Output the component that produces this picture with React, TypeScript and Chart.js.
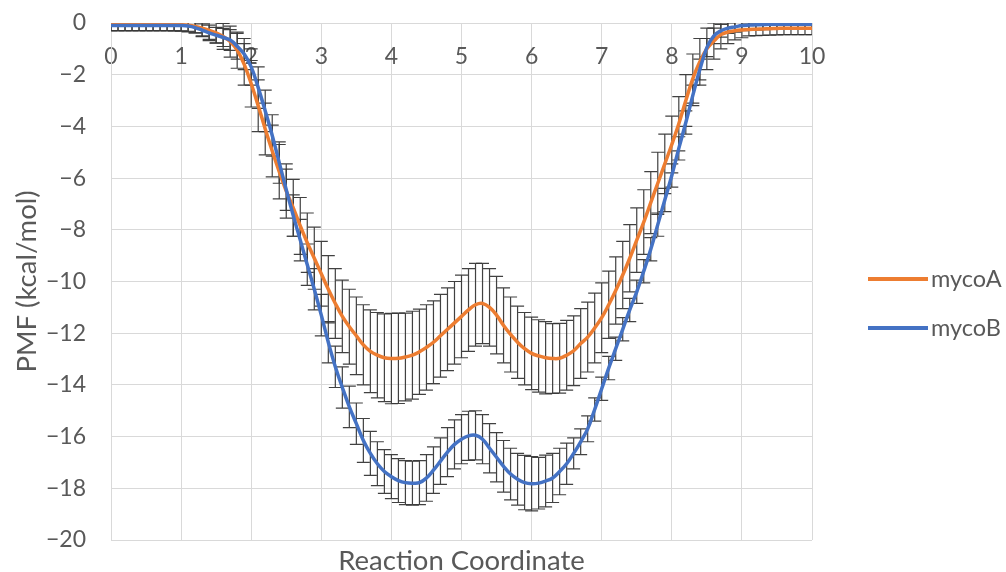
import React, { useEffect, useRef } from "react";
import { Chart, registerables } from "chart.js";

Chart.register(...registerables);

const reactionCoordinate = [
  0, 0.1, 0.2, 0.3, 0.4, 0.5, 0.6, 0.7, 0.8, 0.9,
  1, 1.1, 1.2, 1.3, 1.4, 1.5, 1.6, 1.7, 1.8, 1.9,
  2, 2.1, 2.2, 2.3, 2.4, 2.5, 2.6, 2.7, 2.8, 2.9,
  3, 3.1, 3.2, 3.3, 3.4, 3.5, 3.6, 3.7, 3.8, 3.9,
  4, 4.1, 4.2, 4.3, 4.4, 4.5, 4.6, 4.7, 4.8, 4.9,
  5, 5.1, 5.2, 5.3, 5.4, 5.5, 5.6, 5.7, 5.8, 5.9,
  6, 6.1, 6.2, 6.3, 6.4, 6.5, 6.6, 6.7, 6.8, 6.9,
  7, 7.1, 7.2, 7.3, 7.4, 7.5, 7.6, 7.7, 7.8, 7.9,
  8, 8.1, 8.2, 8.3, 8.4, 8.5, 8.6, 8.7, 8.8, 8.9,
  9, 9.1, 9.2, 9.3, 9.4, 9.5, 9.6, 9.7, 9.8, 9.9,
  10,
];

const mycoA = [
  -0.05, -0.05, -0.05, -0.05, -0.05, -0.05, -0.05, -0.05, -0.05, -0.06,
  -0.07, -0.09, -0.13, -0.2, -0.28, -0.38, -0.52, -0.72, -1.05, -1.6,
  -2.35, -3.2, -4.1, -4.95, -5.75, -6.5, -7.15, -7.85, -8.5, -9.1,
  -9.7, -10.3, -10.85, -11.35, -11.75, -12.1, -12.45, -12.7, -12.85, -12.95,
  -12.98, -12.97, -12.92, -12.85, -12.72, -12.55, -12.35, -12.1, -11.85, -11.6,
  -11.35, -11.1, -10.9, -10.85, -11.0, -11.3, -11.7, -12.05, -12.35, -12.6,
  -12.78, -12.88, -12.95, -12.98, -12.97, -12.85, -12.68, -12.4, -12.15, -11.8,
  -11.4, -10.9, -10.35, -9.75, -9.1, -8.4, -7.7, -6.95, -6.2, -5.45,
  -4.7, -3.9, -3.0, -2.15, -1.5, -1.0, -0.7, -0.45, -0.35, -0.3,
  -0.27, -0.25, -0.24, -0.23, -0.22, -0.21, -0.2, -0.2, -0.2, -0.2,
  -0.2,
];

const mycoAError = [
  0.25, 0.25, 0.25, 0.25, 0.25, 0.25, 0.25, 0.25, 0.25, 0.25,
  0.25, 0.25, 0.25, 0.3, 0.35, 0.4, 0.5, 0.6, 0.7, 0.8,
  0.9, 1.0, 1.0, 1.0, 1.05, 1.05, 1.1, 1.1, 1.15, 1.2,
  1.25, 1.3, 1.35, 1.4, 1.45, 1.5, 1.55, 1.6, 1.65, 1.7,
  1.75, 1.75, 1.7, 1.7, 1.65, 1.65, 1.6, 1.6, 1.6, 1.6,
  1.6, 1.6, 1.6, 1.55, 1.5, 1.5, 1.45, 1.45, 1.4, 1.4,
  1.4, 1.4, 1.4, 1.35, 1.35, 1.35, 1.35, 1.35, 1.35, 1.35,
  1.35, 1.3, 1.3, 1.3, 1.3, 1.25, 1.25, 1.2, 1.2, 1.15,
  1.1, 1.05, 1.0, 0.95, 0.9, 0.8, 0.7, 0.55, 0.45, 0.35,
  0.3, 0.25, 0.25, 0.25, 0.25, 0.25, 0.25, 0.25, 0.25, 0.25,
  0.25,
];

const mycoB = [
  -0.1, -0.1, -0.1, -0.1, -0.1, -0.1, -0.1, -0.1, -0.1, -0.1,
  -0.1, -0.12, -0.18, -0.28, -0.38, -0.47, -0.56, -0.66, -0.9, -1.2,
  -1.7, -2.5, -3.4, -4.35, -5.4, -6.45, -7.45, -8.4, -9.35, -10.3,
  -11.3, -12.35, -13.3, -14.1, -14.85, -15.5, -16.15, -16.65, -17.05, -17.35,
  -17.55, -17.7, -17.78, -17.8, -17.78, -17.6, -17.3, -16.95, -16.6, -16.3,
  -16.1, -15.97, -15.95, -16.1, -16.45, -16.8, -17.15, -17.45, -17.65, -17.78,
  -17.82, -17.8, -17.72, -17.6, -17.35, -17.05, -16.65, -16.2, -15.7, -14.95,
  -14.15, -13.35, -12.6, -11.85, -11.1, -10.4, -9.6, -8.75, -7.8, -6.85,
  -5.9, -4.85, -3.85, -2.8, -1.8, -0.95, -0.5, -0.3, -0.2, -0.15,
  -0.1, -0.08, -0.07, -0.06, -0.05, -0.05, -0.05, -0.05, -0.05, -0.05,
  -0.05,
];

const mycoBError = [
  0.2, 0.2, 0.2, 0.2, 0.2, 0.2, 0.2, 0.2, 0.2, 0.2,
  0.2, 0.2, 0.2, 0.25, 0.3, 0.3, 0.35, 0.4, 0.5, 0.6,
  0.7, 0.8, 0.8, 0.8, 0.8, 0.8, 0.8, 0.8, 0.8, 0.8,
  0.8, 0.8, 0.8, 0.8, 0.8, 0.8, 0.85, 0.85, 0.85, 0.85,
  0.85, 0.85, 0.85, 0.85, 0.85, 0.9, 0.9, 0.9, 0.95, 0.95,
  0.95, 0.95, 0.95, 0.95, 0.95, 0.95, 1.0, 1.0, 1.0, 1.05,
  1.05, 1.0, 1.0, 0.95, 0.9, 0.8, 0.6, 0.5, 0.5, 0.45,
  0.45, 0.45, 0.45, 0.45, 0.45, 0.45, 0.45, 0.45, 0.45, 0.45,
  0.45, 0.45, 0.45, 0.4, 0.4, 0.35, 0.3, 0.25, 0.2, 0.2,
  0.2, 0.2, 0.2, 0.2, 0.2, 0.2, 0.2, 0.2, 0.2, 0.2,
  0.2,
];

const seriesLabels = ["mycoA", "mycoB"];
const seriesColors = ["#ED7D31", "#4472C4"];
const seriesValues = [mycoA, mycoB];
const seriesErrors = [mycoAError, mycoBError];

const FONT = "Lato, 'Open Sans', sans-serif";
const TEXT_COLOR = "#595959";
const GRID_COLOR = "#d9d9d9";

const errorBarPlugin = {
  id: "errorBars",
  beforeDatasetsDraw(chart: any) {
    const { ctx, chartArea, scales } = chart;
    const yScale = scales.y;
    const cap = 6.5;
    ctx.save();
    ctx.beginPath();
    ctx.rect(chartArea.left, chartArea.top, chartArea.right - chartArea.left, chartArea.bottom - chartArea.top);
    ctx.clip();
    ctx.strokeStyle = "rgba(55,55,55,0.95)";
    ctx.lineWidth = 1.2;
    chart.data.datasets.forEach((ds: any, i: number) => {
      const meta = chart.getDatasetMeta(i);
      const errs = seriesErrors[i];
      meta.data.forEach((pt: any, j: number) => {
        const v = seriesValues[i][j];
        const top = yScale.getPixelForValue(v + errs[j]);
        const bot = yScale.getPixelForValue(v - errs[j]);
        const x = pt.x;
        ctx.beginPath();
        ctx.moveTo(x, top);
        ctx.lineTo(x, bot);
        ctx.moveTo(x - cap, top);
        ctx.lineTo(x + cap, top);
        ctx.moveTo(x - cap, bot);
        ctx.lineTo(x + cap, bot);
        ctx.stroke();
      });
    });
    ctx.restore();
  },
};

const sideLegendPlugin = {
  id: "sideLegend",
  afterDraw(chart: any) {
    const { ctx, chartArea } = chart;
    const startX = chartArea.right + 56;
    const firstY = chartArea.top + 256;
    const gap = 49;
    ctx.save();
    chart.data.datasets.forEach((ds: any, i: number) => {
      const y = firstY + i * gap;
      ctx.strokeStyle = ds.borderColor;
      ctx.lineWidth = 4;
      ctx.lineCap = "butt";
      ctx.beginPath();
      ctx.moveTo(startX, y);
      ctx.lineTo(startX + 60, y);
      ctx.stroke();
      ctx.fillStyle = TEXT_COLOR;
      ctx.font = `23.5px ${FONT}`;
      ctx.textBaseline = "middle";
      ctx.textAlign = "left";
      ctx.fillText(ds.label, startX + 63, y);
    });
    ctx.restore();
  },
};

export default function App() {
  const canvasRef = useRef<HTMLCanvasElement | null>(null);

  useEffect(() => {
    if (!canvasRef.current) return;
    const datasets = seriesLabels.map((label, i) => ({
      label,
      data: reactionCoordinate.map((x, j) => ({ x, y: seriesValues[i][j] })),
      borderColor: seriesColors[i],
      backgroundColor: seriesColors[i],
      borderWidth: 3.5,
      pointRadius: 0,
      tension: 0.4,
      fill: false,
      order: i === 0 ? 1 : 0,
    }));

    const chart = new Chart(canvasRef.current, {
      type: "line",
      data: { datasets },
      plugins: [errorBarPlugin, sideLegendPlugin],
      options: {
        animation: false,
        responsive: false,
        devicePixelRatio: 1,
        layout: { padding: { top: 23, right: 194, left: 0, bottom: 0 } },
        plugins: { legend: { display: false }, tooltip: { enabled: false } },
        scales: {
          x: {
            type: "linear",
            position: { y: 0 } as any,
            min: 0,
            max: 10,
            ticks: {
              stepSize: 1,
              padding: 20,
              color: TEXT_COLOR,
              font: { family: FONT, size: 23 },
              maxRotation: 0,
            },
            grid: { color: GRID_COLOR, lineWidth: 1, drawTicks: false },
            border: { color: GRID_COLOR, width: 1 },
          },
          xTitle: {
            type: "linear",
            position: "bottom",
            min: 0,
            max: 10,
            ticks: { display: false },
            grid: { display: false, drawTicks: false },
            border: { display: false },
            title: {
              display: true,
              text: "Reaction Coordinate",
              color: TEXT_COLOR,
              font: { family: FONT, size: 27.5, lineHeight: 0.8 },
              padding: { top: 0, bottom: 0 },
            },
            afterFit: (scale: any) => {
              scale.height = 32;
            },
          },
          y: {
            type: "linear",
            position: "left",
            min: -20,
            max: 0,
            ticks: {
              stepSize: 2,
              padding: 0,
              color: TEXT_COLOR,
              font: { family: FONT, size: 23 },
              callback: (v: any) => (Number(v) < 0 ? "\u2212" + Math.abs(Number(v)) : String(v)),
            },
            grid: {
              color: GRID_COLOR,
              lineWidth: 1,
              drawTicks: true,
              tickLength: 25,
              tickColor: "rgba(0,0,0,0)",
            },
            border: { color: GRID_COLOR, width: 1 },
            title: {
              display: true,
              text: "PMF (kcal/mol)",
              color: TEXT_COLOR,
              font: { family: FONT, size: 27.5 },
              padding: { top: 10.5, bottom: 0 },
            },
            afterFit: (scale: any) => {
              scale.width = 111;
            },
          },
        },
      } as any,
    });
    return () => chart.destroy();
  }, []);

  return (
    <div style={{ position: "absolute", left: 0, top: 0, width: 1006, height: 572, background: "#fff" }}>
      <canvas ref={canvasRef} width={1006} height={572} />
    </div>
  );
}
